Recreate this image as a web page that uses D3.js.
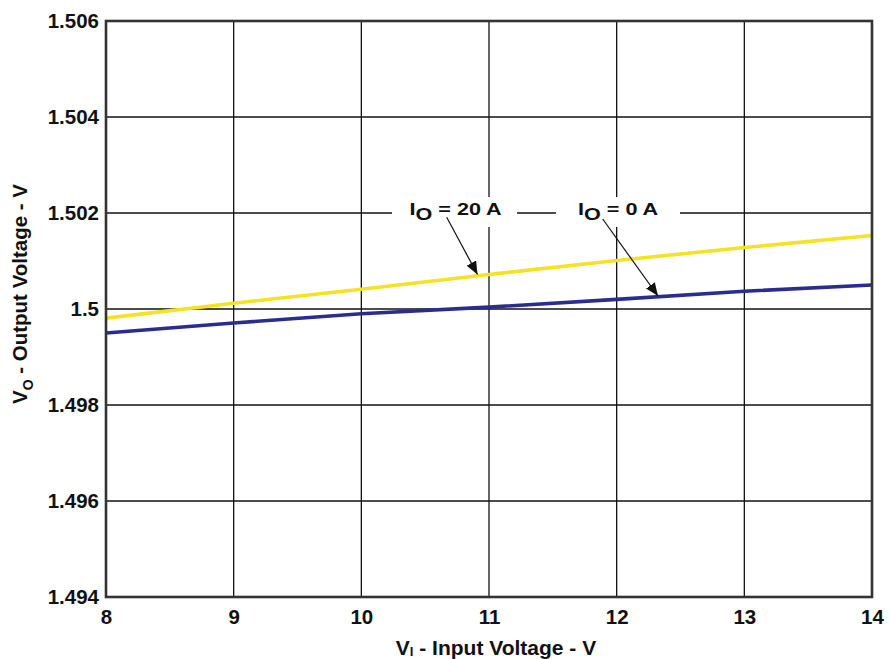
<!DOCTYPE html>
<html><head><meta charset="utf-8">
<script src="https://cdn.jsdelivr.net/npm/d3@7"></script>
<style>body{margin:0;background:#fff}svg{display:block}text{font-family:"Liberation Sans",Arial,sans-serif;font-weight:bold;fill:#111}</style>
</head><body><svg id="c" width="889" height="659"></svg>
<script>
const inputVoltage = [8, 9, 10, 11, 12, 13, 14];
const vout0A  = [1.49950, 1.49971, 1.49990, 1.50004, 1.50020, 1.50037, 1.50050];
const vout20A = [1.49981, 1.50012, 1.50041, 1.50072, 1.50101, 1.50128, 1.50153];
const xTicks = [8, 9, 10, 11, 12, 13, 14];
const yTicks = [1.494, 1.496, 1.498, 1.5, 1.502, 1.504, 1.506];
const yTickLabels = ["1.494", "1.496", "1.498", "1.5", "1.502", "1.504", "1.506"];

const svg = d3.select("#c");
const L = 106, R = 872, T = 21, B = 597;
const x = d3.scaleLinear().domain([8, 14]).range([L, R]);
const y = d3.scaleLinear().domain([1.494, 1.506]).range([B, T]);

// grid
const g = svg.append("g");
g.selectAll(".vx").data(xTicks.slice(1, -1)).join("line")
  .attr("x1", d => x(d)).attr("x2", d => x(d)).attr("y1", T).attr("y2", B)
  .attr("stroke", "#111").attr("stroke-width", 1.3);
g.selectAll(".hy").data(yTicks.slice(1, -1)).join("line")
  .attr("y1", d => y(d)).attr("y2", d => y(d)).attr("x1", L).attr("x2", R)
  .attr("stroke", "#111").attr("stroke-width", 1.3);

// label background boxes cutting the 1.502 gridline
const lblY = y(1.502);
svg.append("rect").attr("x", 392).attr("y", lblY - 16).attr("width", 125).attr("height", 30).attr("fill", "#fff");
svg.append("rect").attr("x", 556).attr("y", lblY - 16).attr("width", 124).attr("height", 30).attr("fill", "#fff");

// lines
const line = d3.line().x((d, i) => x(inputVoltage[i])).y(d => y(d));
svg.append("path").datum(vout20A).attr("d", line).attr("fill", "none")
  .attr("stroke", "#f4e323").attr("stroke-width", 3.6);
svg.append("path").datum(vout0A).attr("d", line).attr("fill", "none")
  .attr("stroke", "#2a2d8e").attr("stroke-width", 3.6);

// frame
svg.append("rect").attr("x", L).attr("y", T).attr("width", R - L).attr("height", B - T)
  .attr("fill", "none").attr("stroke", "#333").attr("stroke-width", 2.6);

// axes (tick labels only)
const yAxis = d3.axisLeft(y).tickValues(yTicks).tickFormat((d, i) => yTickLabels[i]).tickSize(0).tickPadding(7);
const ya = svg.append("g").attr("transform", `translate(${L},0)`).call(yAxis);
ya.select(".domain").remove();
ya.selectAll("text").attr("font-size", 20.5).attr("fill", "#111").attr("font-family", "Liberation Sans, Arial, sans-serif").attr("font-weight", "bold");

const xAxis = d3.axisBottom(x).tickValues(xTicks).tickFormat(d3.format("d")).tickSize(0).tickPadding(12);
const xa = svg.append("g").attr("transform", `translate(0,${B})`).call(xAxis);
xa.select(".domain").remove();
xa.selectAll("text").attr("font-size", 20.5).attr("fill", "#111").attr("font-family", "Liberation Sans, Arial, sans-serif").attr("font-weight", "bold");

// axis titles
const xt = svg.append("text").attr("x", 496).attr("y", 655).attr("text-anchor", "middle").attr("font-size", 21);
xt.append("tspan").text("V");
xt.append("tspan").text("I").attr("font-size", 13).attr("dy", 1);
xt.append("tspan").text(" - Input Voltage - V").attr("dy", -1);

const yt = svg.append("text").attr("transform", "translate(27,294) rotate(-90)").attr("text-anchor", "middle").attr("font-size", 20.5);
yt.append("tspan").text("V");
yt.append("tspan").text("O").attr("font-size", 14).attr("dy", 6);
yt.append("tspan").text(" - Output Voltage - V").attr("dy", -6);

// series labels (horizontally stretched like the reference)
function lbl(xp, main, sub, rest) {
  const t = svg.append("text").attr("transform", `translate(${xp},215) scale(1.35,1)`).attr("font-size", 16);
  t.append("tspan").text(main);
  t.append("tspan").text(sub).attr("font-size", 16).attr("dy", 5);
  t.append("tspan").text(rest).attr("dy", -5);
}
lbl(409.5, "I", "O", " = 20 A");
lbl(578, "I", "O", " = 0 A");

// arrows
svg.append("defs").append("marker").attr("id", "ah").attr("viewBox", "0 0 12 10")
  .attr("refX", 12).attr("refY", 5).attr("markerWidth", 13).attr("markerHeight", 11)
  .attr("markerUnits", "userSpaceOnUse").attr("orient", "auto")
  .append("path").attr("d", "M0,0 L12,5 L0,10 Z").attr("fill", "#111");
const arrows = [[446.7, 217.3, 477.5, 274.5], [602.7, 219, 658, 296]];
svg.selectAll(".arr").data(arrows).join("line")
  .attr("x1", d => d[0]).attr("y1", d => d[1]).attr("x2", d => d[2]).attr("y2", d => d[3])
  .attr("stroke", "#111").attr("stroke-width", 1.2).attr("marker-end", "url(#ah)");
</script></body></html>
